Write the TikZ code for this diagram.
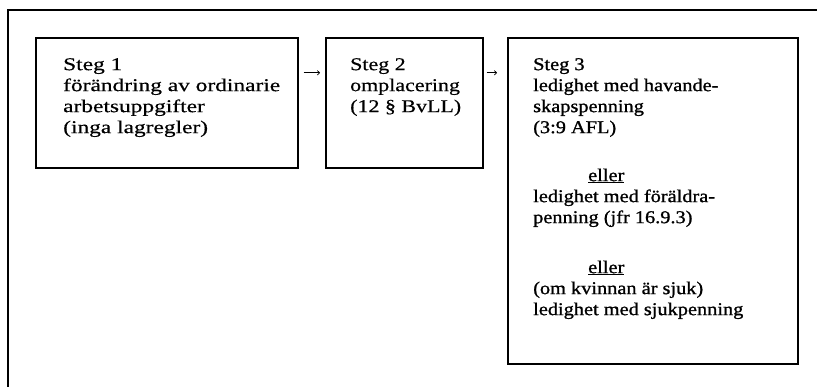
\documentclass[tikz,border=0pt]{standalone}
\usepackage{fontspec}
\setmainfont{Liberation Serif}
\newfontfamily\stegwide{Liberation Serif}[FakeStretch=1.3,FakeBold=0.5]
\newfontfamily\stegmid{Liberation Serif}[FakeStretch=1.22,FakeBold=0.5]
\newfontfamily\stegdark{Liberation Serif}[FakeStretch=1.13,FakeBold=1.1]
\usetikzlibrary{arrows.meta,positioning}

\begin{document}
\begin{tikzpicture}[x=1pt,y=1pt]
  \tikzset{stage/.style={draw,line width=1.6pt,minimum width=#1,inner sep=0pt,anchor=north west},
           stagetxt/.style={anchor=north west,inner sep=0pt,align=left,font=\fontsize{18}{21}\selectfont#1},
           arr/.style={-{To[length=3pt,width=5pt]},line width=0.7pt}}
  \useasboundingbox (0,0) rectangle (817,-387);
  % outer frame: only its top and left edges lie inside the picture
  \coordinate (frameTop) at (817,-10);
  \coordinate (frameCorner) at (8,-10);
  \coordinate (frameBot) at (8,-387);
  \draw[line width=1.6pt] (frameTop) -- (frameCorner) -- (frameBot);
  \node[stage=262pt,minimum height=130pt] (steg1) at (35,-37) {};
  \node[stage=157pt,minimum height=130pt] (steg2) at (325,-37) {};
  \node[stage=290pt,minimum height=326pt] (steg3) at (507,-37) {};
  \node[stagetxt=\stegwide] (txt1) at ([xshift=28pt,yshift=-21pt]steg1.north west)
    {Steg 1\\förändring av ordinarie\\arbetsuppgifter\\(inga lagregler)};
  \node[stagetxt=\stegmid] (txt2) at ([xshift=25pt,yshift=-21pt]steg2.north west)
    {Steg 2\\omplacering\\(12 § BvLL)};
  \node[stagetxt=\stegdark] (txt3) at ([xshift=26pt,yshift=-21pt]steg3.north west)
    {Steg 3\\ledighet med havande-\\skapspenning\\(3:9 AFL)\\[27pt]
     \hspace*{55pt}\underline{eller}\\ledighet med föräldra-\\penning (jfr 16.9.3)\\[29pt]
     \hspace*{55pt}\underline{eller}\\(om kvinnan är sjuk)\\ledighet med sjukpenning};
  % small arrows between the stages
  \draw[arr,shorten <=5pt,shorten >=5pt] ([yshift=30pt]steg1.east) -- ([yshift=30pt]steg2.west);
  \coordinate (arrTwo) at ([yshift=30pt]steg2.east);
  \draw[arr,shorten <=3pt,shorten >=10pt] (arrTwo) -- (arrTwo -| steg3.west);
\end{tikzpicture}
\end{document}
